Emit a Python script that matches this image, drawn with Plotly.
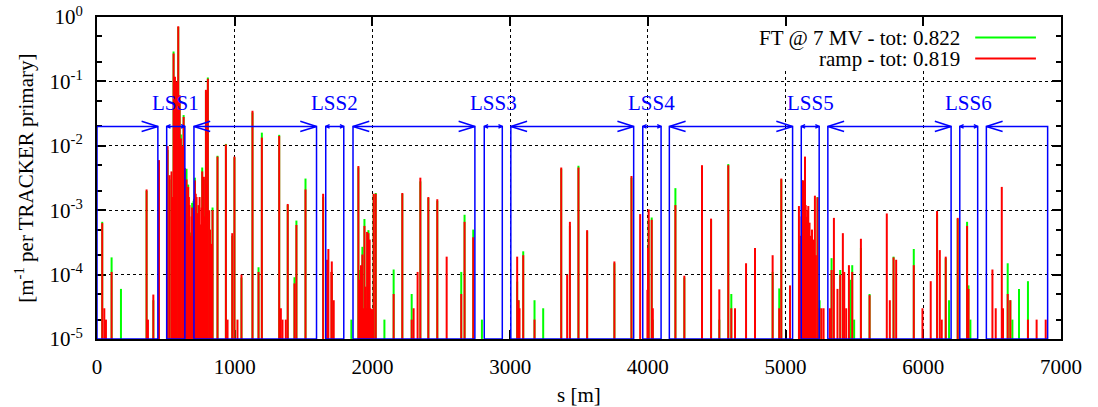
import numpy as np
import plotly.graph_objects as go

# ---------------- data ----------------
# FT @ 7 MV : element position s [m] and loss density [1/m per TRACKER primary]
ft_s = [38, 106, 174, 360, 409, 450, 513, 527, 556, 566, 580, 590, 600, 609, 629, 638,
        650, 662, 682, 691, 701, 711, 723, 764, 776, 791, 805, 839, 875, 936, 982, 998,
        1049, 1129, 1173, 1197, 1323, 1385, 1434, 1448, 1514, 1642, 1705, 1847, 1898,
        1907, 1927, 1942, 1971, 2009, 2024, 2087, 2154, 2217, 2285, 2348, 2406, 2471,
        2645, 2669, 2732, 2795, 3051, 3061, 3095, 3177, 3240, 3371, 3434, 3496, 3559,
        3757, 3881, 4006, 4028, 4036, 4200, 4265, 4459, 4519, 4584, 4606, 4778, 4906,
        4954, 4969, 5121, 5158, 5232, 5247, 5334, 5397, 5469, 5484, 5498, 5547, 5610,
        5784, 5931, 6100, 6163, 6187, 6250, 6318, 6328, 6342, 6613, 6632, 6647, 6695, 6760]
ft_val = [6.6e-4, 1.85e-4, 6e-5, 2.0e-3, 4e-5, 5.8e-3, 8.6e-3, 3e-3, 0.29, 0.1, 0.098, 0.70,
          0.05, 0.015, 0.03, 4e-3, 4.4e-3, 2.5e-3, 4.5e-4, 1.3e-3, 1.4e-3, 3.2e-3, 1.2e-3,
          4.6e-3, 3e-3, 0.07, 0.115, 1.1e-3, 7e-3, 0.0107, 4e-4, 6.6e-3, 9e-5, 0.033,
          1.3e-4, 0.016, 0.0148, 1.2e-3, 9.1e-5, 6.9e-4, 3.1e-3, 1.6e-3, 1.1e-4, 2e-5,
          4.6e-3, 1.18e-4, 2.7e-4, 7.3e-4, 4.9e-4, 1.75e-3, 1.85e-3, 2e-5, 1.2e-4, 1.8e-3,
          5e-5, 2.8e-3, 1.55e-3, 1.4e-3, 1.1e-4, 8.5e-4, 5e-4, 2e-5, 7.8e-5, 4e-5, 2.3e-4,
          4e-5, 3e-5, 4.4e-3, 5.7e-4, 4.9e-3, 4.7e-4, 1.5e-4, 3.2e-3, 7.1e-4, 7.7e-4, 2e-5,
          2.2e-3, 9e-5, 7e-4, 2e-5, 5.2e-3, 5e-5, 2.5e-4, 1.1e-4, 6.1e-5, 3e-3, 2.9e-3,
          5e-4, 1.6e-3, 4e-5, 1.8e-4, 1.18e-4, 8.3e-5, 1.4e-4, 2e-5, 2.6e-4, 5e-5, 1.9e-4,
          2.5e-4, 8.6e-4, 1.8e-4, 4e-5, 7.3e-4, 6.6e-4, 6.8e-5, 2e-5, 1.5e-4, 4e-5, 2e-5,
          6e-5, 7.9e-5]

# ramp : element position s [m] and loss density
ramp_s = [38, 53, 65, 106, 360, 370, 409, 450,
          513, 527, 541, 548, 556, 566, 573, 580, 590, 600, 609, 619, 629, 638, 645, 650,
          656, 662, 667, 672, 677, 682, 687, 691, 696, 701, 706, 711, 717, 723, 729, 735,
          740, 745, 750, 754, 759, 764, 770, 776, 782, 791, 797, 805, 815, 821, 827, 833,
          839, 875, 936, 948, 982, 998, 1020, 1049, 1129, 1173, 1197, 1323, 1335, 1347,
          1371, 1385, 1434, 1448, 1514, 1642, 1671, 1680, 1702, 1705, 1719,
          1898, 1903, 1907, 1912, 1917, 1922, 1927, 1934, 1942, 1951, 1956, 1961, 1966,
          1971, 1980, 1985, 1990, 2000, 2009, 2024, 2154, 2217, 2285, 2299, 2328, 2348,
          2406, 2471, 2539, 2645, 2669, 2732, 3051, 3061, 3068, 3095, 3177, 3371, 3414,
          3434, 3496, 3559, 3757, 3881, 3944, 3997, 4001, 4006, 4028, 4036, 4200, 4265,
          4393, 4459, 4519, 4584, 4606, 4633, 4713, 4778, 4906, 4954, 4969, 5032,
          5097, 5104, 5110, 5116, 5121, 5128, 5134, 5141, 5146, 5150, 5158, 5165, 5170,
          5174, 5179, 5184, 5192, 5199, 5206, 5213, 5220, 5232, 5247, 5261, 5276, 5322,
          5334, 5351, 5377, 5397, 5416, 5426, 5440, 5460, 5484, 5547, 5610, 5735, 5757,
          5784, 5803, 5931, 5994, 6054, 6100, 6120, 6134, 6163, 6250, 6318, 6328, 6502,
          6526, 6570, 6579, 6613, 6632, 6760, 6823, 6889]
ramp_val = [6.3e-4, 3e-5, 2e-5, 1.1e-4, 2.1e-3, 2e-5, 4.9e-5, 6e-3,
            9.9e-3, 3.5e-3, 4e-3, 1.6e-3, 0.27, 0.118, 0.0125, 0.1, 0.72, 0.061, 0.013,
            9.9e-3, 0.028, 4.5e-3, 9e-4, 3e-3, 6e-4, 2.3e-3, 1.6e-3, 1.2e-3, 3e-4, 4e-4,
            8e-4, 1.1e-3, 9e-4, 1e-3, 1.5e-3, 2.9e-3, 1.8e-3, 1.6e-3, 9e-4, 7.5e-4, 1.2e-3,
            1.6e-3, 4e-4, 6e-4, 1.1e-3, 4e-3, 1.5e-3, 3.3e-3, 8e-4, 0.074, 2.5e-3, 0.11,
            1e-3, 5e-4, 1.8e-4, 3e-4, 1e-3, 6.8e-3, 0.0105, 2e-5, 4.4e-4, 6.8e-3, 2e-5,
            1e-4, 0.035, 1.1e-4, 0.0134, 0.0142, 3e-5, 2e-5, 2e-5, 1.25e-3, 7.3e-5, 5.9e-4,
            2.1e-3, 1.8e-3, 1.7e-4, 2.5e-4, 1.1e-4, 1.6e-4, 4e-5,
            4.85e-3, 3e-5, 8.3e-5, 3e-5, 1.4e-4, 3e-5, 2.05e-4, 3e-5, 5.7e-4, 6.5e-5, 3e-5,
            4.6e-4, 3e-5, 4.4e-4, 3.5e-4, 3e-5, 2.9e-5, 2.9e-5, 1.8e-3, 1.8e-3, 5e-5,
            1.85e-3, 2e-5, 3e-5, 1.1e-4, 3.2e-3, 1.6e-3, 1.48e-3, 1.9e-4, 5e-5, 6.6e-4,
            3.8e-4, 1.9e-4, 4e-5, 3e-5, 2.0e-4, 2e-5, 4.6e-3, 1e-4, 6.6e-4, 4.6e-3, 4.9e-4,
            1.6e-4, 3.4e-3, 8.7e-4, 5.8e-5, 2.6e-4, 1.03e-3, 7.1e-4, 3e-5, 1.2e-3, 9.6e-5,
            5e-3, 7.4e-4, 5.9e-5, 5e-3, 3e-5, 3e-5, 1.5e-4, 2.6e-4, 2e-4, 3e-5, 3.1e-3, 6.8e-5,
            1.16e-3, 3e-4, 4e-4, 8e-4, 2.9e-3, 2.9e-3, 9e-4, 6.8e-3, 1.2e-3, 7.9e-4, 1e-3,
            1.16e-3, 4e-4, 6.4e-4, 2e-4, 4e-4, 5e-4, 3.5e-4, 3e-4, 1.68e-3, 2e-4, 1.58e-3,
            3e-5, 3e-5, 3e-5, 3e-5, 1.18e-4, 7.6e-4, 6e-5, 1e-4, 4.4e-4, 1.1e-4, 3e-5, 1.4e-4,
            1.1e-4, 3.6e-4, 4.8e-5, 8.9e-4, 4e-5, 1.85e-4, 1.7e-4, 1.4e-4, 3e-5, 7.9e-5,
            9.7e-4, 2.4e-4, 2e-5, 1.9e-4, 7.6e-4, 5.7e-4, 6e-5, 1.2e-4, 3e-5, 2.3e-3, 3e-5,
            5e-5, 4e-5, 2e-5, 2e-5, 2e-5]

# long straight sections (boundaries in s [m])
lss_names = ["LSS1", "LSS2", "LSS3", "LSS4", "LSS5", "LSS6"]
arc_end = [442, 1594, 2744, 3897, 5051, 6202]
lss_start = [506, 1661, 2812, 3963, 5114, 6265]
lss_end = [638, 1792, 2943, 4096, 5244, 6395]
arc_start = [704, 1859, 3005, 4156, 5307, 6458]
ring_start, ring_end = 0, 6903
marker_level = 0.02
label_level = 0.046

legend_names = ["FT @ 7 MV - tot: 0.822", "ramp - tot: 0.819"]
y_floor = 1e-5
y_decades = [1e-5, 1e-4, 1e-3, 1e-2, 1e-1, 1]
y_ticktext = ["10<sup>-5</sup>", "10<sup>-4</sup>", "10<sup>-3</sup>",
              "10<sup>-2</sup>", "10<sup>-1</sup>", "10<sup>0</sup>"]

GREEN = "#00ff00"
RED = "#ff0000"
BLUE = "#0000ff"
FONT = "Liberation Serif, Times New Roman, Times, DejaVu Serif, serif"


def impulses(xs, vs):
    x, y = [], []
    for s, v in zip(xs, vs):
        x += [s, s, None]
        y += [y_floor, v, None]
    return x, y


fig = go.Figure()
gx, gy = impulses(ft_s, ft_val)
fig.add_trace(go.Scatter(x=gx, y=gy, mode="lines", line=dict(color=GREEN, width=2),
                         showlegend=False, hoverinfo="skip"))
rx, ry = impulses(ramp_s, ramp_val)
fig.add_trace(go.Scatter(x=rx, y=ry, mode="lines", line=dict(color=RED, width=2),
                         showlegend=False, hoverinfo="skip"))

# boxes for arcs and LSS interiors
arc_lo = [ring_start] + arc_start
arc_hi = arc_end + [ring_end]
bx, by = [], []
for a, b in list(zip(arc_lo, arc_hi)) + list(zip(lss_start, lss_end)):
    bx += [a, a, b, b, a, None]
    by += [y_floor, marker_level, marker_level, y_floor, y_floor, None]
fig.add_trace(go.Scatter(x=bx, y=by, mode="lines", line=dict(color=BLUE, width=1.5),
                         showlegend=False, hoverinfo="skip"))

# open arrow heads
hx, hy = [], []
big_len, big_f = 118, 1.2
small_len, small_f = 28, 1.065
for tip in arc_end:      # ">"
    hx += [tip - big_len, tip, tip - big_len, None]
    hy += [marker_level * big_f, marker_level, marker_level / big_f, None]
for tip in arc_start:    # "<"
    hx += [tip + big_len, tip, tip + big_len, None]
    hy += [marker_level * big_f, marker_level, marker_level / big_f, None]
for tip in lss_start:    # small "<"
    hx += [tip + small_len, tip, tip + small_len, None]
    hy += [marker_level * small_f, marker_level, marker_level / small_f, None]
for tip in lss_end:      # small ">"
    hx += [tip - small_len, tip, tip - small_len, None]
    hy += [marker_level * small_f, marker_level, marker_level / small_f, None]
fig.add_trace(go.Scatter(x=hx, y=hy, mode="lines", line=dict(color=BLUE, width=1.5),
                         showlegend=False, hoverinfo="skip"))

for name, a, b in zip(lss_names, lss_start, lss_end):
    fig.add_annotation(x=(a + b) / 2, y=np.log10(label_level), text=name, showarrow=False,
                       font=dict(family=FONT, size=21, color=BLUE),
                       xanchor="center", yanchor="middle")

# opaque key area (hides grid behind the key, like the original)
fig.add_shape(type="rect", xref="paper", yref="paper", x0=0.68, x1=0.985,
              y0=0.835, y1=0.97, fillcolor="white", line=dict(width=0), layer="above")

# manual legend
for i, (name, col) in enumerate(zip(legend_names, [GREEN, RED])):
    yy = 0.936 - i * 0.065
    fig.add_annotation(xref="paper", yref="paper", x=0.897, y=yy, text=name,
                       showarrow=False, xanchor="right", yanchor="middle",
                       font=dict(family=FONT, size=21, color="black"))
    fig.add_shape(type="line", xref="paper", yref="paper", x0=0.911, x1=0.974,
                  y0=yy, y1=yy, line=dict(color=col, width=2), layer="above")

# axis titles
fig.add_annotation(xref="paper", yref="paper", x=-0.076, y=0.5, textangle=-90,
                   text="[m<sup>-1</sup> per TRACKER primary]", showarrow=False,
                   xanchor="center", yanchor="middle",
                   font=dict(family=FONT, size=21, color="black"))
fig.add_annotation(xref="paper", yref="paper", x=0.5, y=-0.174, text="s [m]",
                   showarrow=False, xanchor="center", yanchor="middle",
                   font=dict(family=FONT, size=21, color="black"))

minor_vals = [m * d for d in y_decades[:-1] for m in (2, 5)]

fig.update_xaxes(range=[0, 7000], tickvals=[0, 1000, 2000, 3000, 4000, 5000, 6000, 7000],
                 ticks="inside", ticklen=9, tickwidth=1.5, tickcolor="black",
                 showline=True, linecolor="black", linewidth=2, mirror="ticks",
                 showgrid=True, gridcolor="black", griddash="dot", gridwidth=1,
                 zeroline=False, layer="below traces", ticklabelstandoff=8,
                 automargin=False,
                 tickfont=dict(family=FONT, size=21, color="black"))
fig.update_yaxes(type="log", range=[-5, 0], tickvals=y_decades, ticktext=y_ticktext,
                 ticks="inside", ticklen=9, tickwidth=1.5, tickcolor="black",
                 minor=dict(tickvals=minor_vals, ticks="inside", ticklen=5,
                            tickcolor="black", tickwidth=1.5, showgrid=False),
                 showline=True, linecolor="black", linewidth=2, mirror="ticks",
                 showgrid=True, gridcolor="black", griddash="dot", gridwidth=1,
                 zeroline=False, layer="below traces", ticklabelstandoff=8,
                 automargin=False,
                 tickfont=dict(family=FONT, size=21, color="black"))

fig.update_layout(width=1098, height=407, margin=dict(l=97, r=37, t=17, b=68),
                  plot_bgcolor="white", paper_bgcolor="white", showlegend=False,
                  font=dict(family=FONT, size=21, color="black"))

fig.write_html("out.html", config={"displayModeBar": False},
               post_script="document.body.style.margin='0';document.body.style.overflow='hidden';")
